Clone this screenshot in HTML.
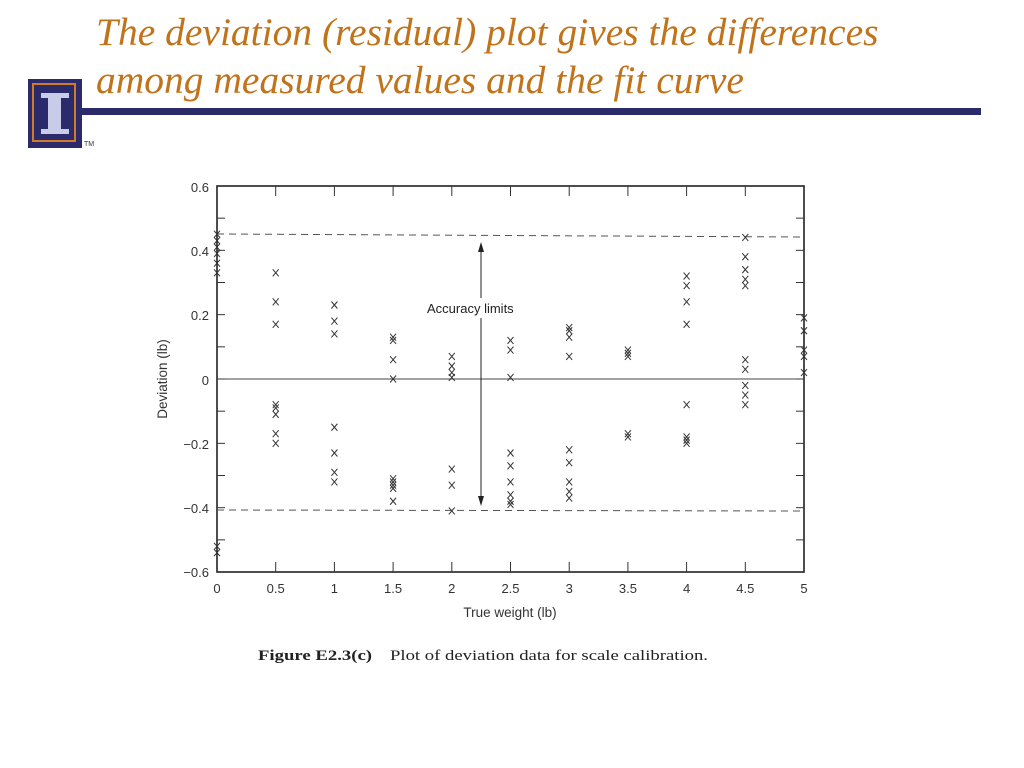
<!DOCTYPE html>
<html><head><meta charset="utf-8"><style>
body{margin:0;width:1024px;height:768px;background:#fff;overflow:hidden;position:relative}
.t{position:absolute;left:96px;font-family:"Liberation Serif",serif;font-style:italic;font-size:39.5px;color:#c0731a;white-space:nowrap}
</style></head><body>
<div class="t" style="top:9px">The deviation (residual) plot gives the differences</div>
<div class="t" style="top:57px">among measured values and the fit curve</div>
<div style="position:absolute;left:82px;top:108px;width:899px;height:7px;background:#2b2a6b"></div>
<div style="position:absolute;left:28px;top:79px;width:54px;height:69px;background:#2b2a6b"></div>
<div style="position:absolute;left:32px;top:83px;width:44px;height:59px;border:2px solid #d07a2a;box-sizing:border-box"></div>
<div style="position:absolute;left:41px;top:93px;width:28px;height:5px;background:#c8cce8"></div>
<div style="position:absolute;left:48px;top:97px;width:13px;height:33px;background:#c8cce8"></div>
<div style="position:absolute;left:41px;top:129px;width:28px;height:5px;background:#c8cce8"></div>
<div style="position:absolute;left:84px;top:141px;font:7px 'Liberation Sans',sans-serif;color:#333">TM</div>
<svg id="s" width="1024" height="768" style="position:absolute;left:0;top:0" font-family="Liberation Sans, sans-serif">
<rect x="217" y="186" width="587" height="386" fill="none" stroke="#222" stroke-width="1.6"/>
<line x1="217" y1="379" x2="804" y2="379" stroke="#444" stroke-width="1"/>
<line x1="217" y1="234" x2="804" y2="237" stroke="#555" stroke-dasharray="7,5"/>
<line x1="217" y1="510" x2="804" y2="511" stroke="#555" stroke-dasharray="7,5"/>
<line x1="481" y1="250" x2="481" y2="498" stroke="#222"/>
<polygon points="481,242 478,252 484,252" fill="#222"/>
<polygon points="481,506 478,496 484,496" fill="#222"/>
<rect x="424" y="298" width="115" height="20" fill="#fff"/>
<text x="427" y="313" font-size="13" fill="#222">Accuracy limits</text>
<g font-size="13" fill="#333" text-anchor="end">
<text x="209" y="192">0.6</text><text x="209" y="256">0.4</text><text x="209" y="320">0.2</text><text x="209" y="385">0</text><text x="209" y="449">−0.2</text><text x="209" y="513">−0.4</text><text x="209" y="577">−0.6</text>
</g>
<g font-size="13" fill="#333" text-anchor="middle" id="xl"></g>
<text x="510" y="617" font-size="13.5" fill="#333" text-anchor="middle">True weight (lb)</text>
<text transform="translate(167,379) rotate(-90)" font-size="13.5" fill="#333" text-anchor="middle">Deviation (lb)</text>
<text x="258" y="660" font-family="Liberation Serif,serif" font-size="15" fill="#222" font-weight="bold" textLength="114" lengthAdjust="spacingAndGlyphs">Figure E2.3(c)</text>
<text x="390" y="660" font-family="Liberation Serif,serif" font-size="15" fill="#222" textLength="318" lengthAdjust="spacingAndGlyphs">Plot of deviation data for scale calibration.</text>
<g id="tk" stroke="#333"></g><g id="pt" stroke="#333" stroke-width="1"></g>
</svg>
<script>
var X=v=>217+v*117.4,Y=v=>379-v*321.7,ns="http://www.w3.org/2000/svg";
function el(g,t,a){var e=document.createElementNS(ns,t);for(var k in a)e.setAttribute(k,a[k]);document.getElementById(g).appendChild(e);return e}
var labs=["0","0.5","1","1.5","2","2.5","3","3.5","4","4.5","5"];
for(var i=0;i<=10;i++){var x=X(i/2);el("xl","text",{x:x,y:593}).textContent=labs[i];
if(i>0&&i<10){el("tk","line",{x1:x,y1:186,x2:x,y2:196});el("tk","line",{x1:x,y1:572,x2:x,y2:562});}}
for(var j=-5;j<=5;j++){var y=Y(j/10);el("tk","line",{x1:217,y1:y,x2:225,y2:y});el("tk","line",{x1:804,y1:y,x2:796,y2:y});}
var d={0:[.45,.43,.41,.39,.36,.33,-.52,-.54],.5:[.33,.24,.17,-.08,-.09,-.11,-.17,-.2],1:[.23,.18,.14,-.15,-.23,-.29,-.32],1.5:[.13,.12,.06,0,-.31,-.32,-.33,-.34,-.38],2:[.07,.04,.02,.005,-.28,-.33,-.41],2.5:[.12,.09,.005,-.23,-.27,-.32,-.36,-.38,-.39],3:[.16,.15,.13,.07,-.22,-.26,-.32,-.35,-.37],3.5:[.09,.08,.07,-.17,-.18],4:[.32,.29,.24,.17,-.08,-.18,-.19,-.2],4.5:[.44,.38,.34,.31,.29,.06,.03,-.02,-.05,-.08],5:[.19,.15,.09,.07,.02]};
for(var k in d){var x=X(+k);d[k].forEach(function(v){var y=Y(v);el("pt","path",{d:"M"+(x-3)+" "+(y-3.5)+"L"+(x+3)+" "+(y+3.5)+"M"+(x+3)+" "+(y-3.5)+"L"+(x-3)+" "+(y+3.5)})})}
</script>
</body></html>
